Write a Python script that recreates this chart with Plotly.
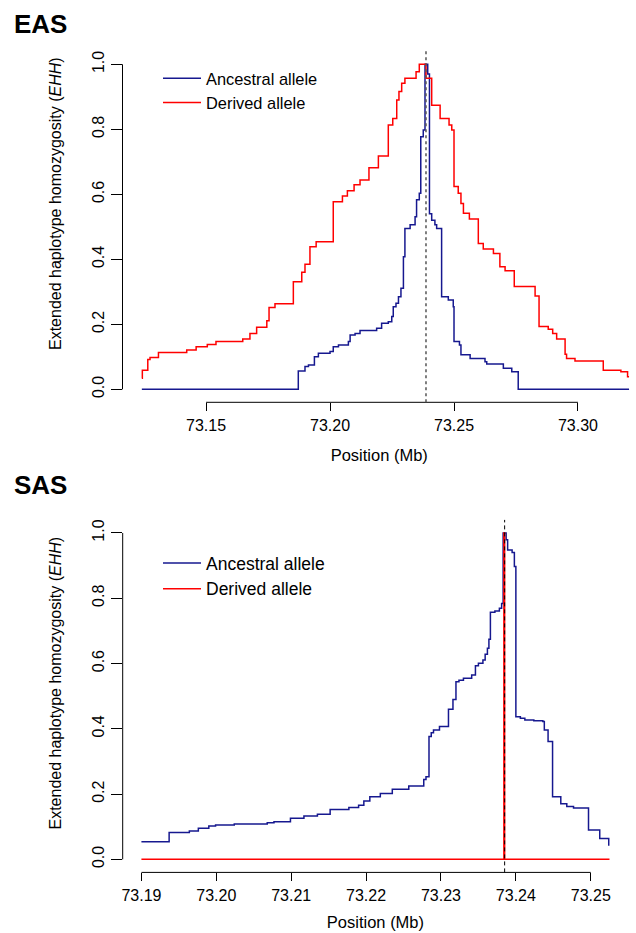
import plotly.graph_objects as go

# ---------------- data ----------------
eas_anc_pos = [73.1241, 73.1872, 73.1899, 73.1913, 73.1937, 73.1953, 73.2000, 73.2013, 73.2034,
               73.2074, 73.2081, 73.2101, 73.2121, 73.2188, 73.2208, 73.2235, 73.2249, 73.2255,
               73.2266, 73.2276, 73.2286, 73.2296, 73.2302, 73.2323, 73.2343, 73.2349, 73.2360,
               73.2366, 73.2376, 73.2383, 73.2394, 73.2401, 73.2410, 73.2423, 73.2430, 73.2450,
               73.2477, 73.2497, 73.2500, 73.2522, 73.2528, 73.2565, 73.2625, 73.2632, 73.2699,
               73.2733, 73.2759, 73.3206]
eas_anc_ehh = [0.000, 0.056, 0.070, 0.075, 0.100, 0.111, 0.116, 0.131, 0.136,
               0.147, 0.167, 0.172, 0.181, 0.188, 0.203, 0.208, 0.224, 0.254,
               0.265, 0.285, 0.311, 0.408, 0.495, 0.506, 0.531, 0.583, 0.603,
               0.777, 0.798, 1.000, 0.970, 0.540, 0.520, 0.506, 0.495, 0.285,
               0.275, 0.254, 0.147, 0.136, 0.106, 0.095, 0.085, 0.078, 0.065,
               0.054, 0.000, 0.000]

eas_der_pos = [73.1241, 73.1243, 73.1265, 73.1274, 73.1308, 73.1422, 73.1460, 73.1505, 73.1540,
               73.1648, 73.1677, 73.1704, 73.1745, 73.1754, 73.1778, 73.1852, 73.1886, 73.1899,
               73.1919, 73.1944, 73.2013, 73.2050, 73.2070, 73.2097, 73.2121, 73.2157, 73.2195,
               73.2235, 73.2253, 73.2269, 73.2278, 73.2289, 73.2302, 73.2347, 73.2360, 73.2387,
               73.2410, 73.2444, 73.2480, 73.2491, 73.2500, 73.2517, 73.2528, 73.2538, 73.2562,
               73.2598, 73.2618, 73.2659, 73.2685, 73.2706, 73.2743, 73.2827, 73.2843, 73.2880,
               73.2898, 73.2914, 73.2948, 73.2954, 73.2988, 73.3102, 73.3173, 73.3200, 73.3206]
eas_der_ehh = [0.034, 0.059, 0.092, 0.098, 0.113, 0.121, 0.131, 0.138, 0.147,
               0.155, 0.172, 0.191, 0.211, 0.252, 0.263, 0.331, 0.360, 0.385,
               0.439, 0.454, 0.577, 0.595, 0.611, 0.629, 0.644, 0.682, 0.718,
               0.813, 0.833, 0.890, 0.916, 0.942, 0.957, 0.977, 1.000, 0.957,
               0.874, 0.833, 0.813, 0.798, 0.624, 0.603, 0.572, 0.542, 0.524,
               0.449, 0.432, 0.418, 0.377, 0.365, 0.316, 0.287, 0.193, 0.185,
               0.172, 0.155, 0.108, 0.095, 0.087, 0.059, 0.054, 0.039, 0.039]

sas_anc_pos = [73.1900, 73.1937, 73.1964, 73.1976, 73.1990, 73.1999, 73.2024, 73.2068, 73.2077,
               73.2099, 73.2117, 73.2135, 73.2152, 73.2177, 73.2190, 73.2197, 73.2205, 73.2219,
               73.2235, 73.2257, 73.2277, 73.2280, 73.2284, 73.2287, 73.2290, 73.2298, 73.2310,
               73.2316, 73.2320, 73.2324, 73.2330, 73.2341, 73.2346, 73.2350, 73.2356, 73.2359,
               73.2362, 73.2364, 73.2366, 73.2372, 73.2378, 73.2381, 73.2383, 73.2387, 73.2389,
               73.2395, 73.2398, 73.2400, 73.2406, 73.2412, 73.2424, 73.2436, 73.2438, 73.2443,
               73.2449, 73.2460, 73.2468, 73.2477, 73.2497, 73.2512, 73.2524, 73.2525]
sas_anc_ehh = [0.054, 0.082, 0.087, 0.095, 0.102, 0.105, 0.108, 0.112, 0.115,
               0.126, 0.133, 0.138, 0.153, 0.159, 0.166, 0.179, 0.192, 0.202,
               0.215, 0.225, 0.245, 0.253, 0.376, 0.388, 0.396, 0.407, 0.460,
               0.490, 0.544, 0.549, 0.555, 0.565, 0.593, 0.601, 0.611, 0.628,
               0.647, 0.674, 0.757, 0.761, 0.769, 0.784, 1.000, 0.979, 0.948,
               0.940, 0.897, 0.437, 0.432, 0.427, 0.425, 0.422, 0.396, 0.361,
               0.192, 0.170, 0.162, 0.157, 0.090, 0.064, 0.044, 0.044]

sas_der_pos = [73.1900, 73.2384, 73.2385, 73.2525]
sas_der_ehh = [0.0, 1.0, 0.0, 0.0]

eas_core = 73.2387
sas_core = 73.2385

eas_xticks = [73.15, 73.20, 73.25, 73.30]
sas_xticks = [73.19, 73.20, 73.21, 73.22, 73.23, 73.24, 73.25]
y_ticks = [0.0, 0.2, 0.4, 0.6, 0.8, 1.0]

# ---------------- figure ----------------
W, H = 636, 933
FONT = "Liberation Sans, Arial, Helvetica, sans-serif"
BLUE = "#16188f"
RED = "#ff0000"


def px(x):
    return x / W


def py(y):
    return 1 - y / H


fig = go.Figure()

fig.add_trace(go.Scatter(x=eas_anc_pos, y=eas_anc_ehh, mode="lines", line_shape="hv",
                         line=dict(color=BLUE, width=1.5), name="Ancestral allele",
                         xaxis="x", yaxis="y", legend="legend"))
fig.add_trace(go.Scatter(x=eas_der_pos, y=eas_der_ehh, mode="lines", line_shape="hv",
                         line=dict(color=RED, width=1.5), name="Derived allele",
                         xaxis="x", yaxis="y", legend="legend"))
fig.add_trace(go.Scatter(x=sas_anc_pos, y=sas_anc_ehh, mode="lines", line_shape="hv",
                         line=dict(color=BLUE, width=1.5), name="Ancestral allele",
                         xaxis="x2", yaxis="y2", legend="legend2"))
fig.add_trace(go.Scatter(x=sas_der_pos, y=sas_der_ehh, mode="lines", line_shape="hv",
                         line=dict(color=RED, width=1.5), name="Derived allele",
                         xaxis="x2", yaxis="y2", legend="legend2"))

axis_common = dict(showline=False, zeroline=False, showgrid=False, ticks="outside",
                   tickcolor="black", tickwidth=1, automargin=False,
                   tickfont=dict(family=FONT, size=16, color="black"))

ylabels = ["%.1f" % v for v in y_ticks]

fig.update_layout(
    width=W, height=H,
    margin=dict(l=0, r=0, t=0, b=0),
    paper_bgcolor="white", plot_bgcolor="white",
    font=dict(family=FONT, color="black"),
    xaxis=dict(domain=[px(122.5), 1.0], range=[73.1163, 73.3234], anchor="y",
               tickvals=eas_xticks, ticktext=["%.2f" % v for v in eas_xticks], ticklen=8,
               title=dict(text="Position (Mb)", font=dict(size=16.5), standoff=16),
               **axis_common),
    yaxis=dict(domain=[py(402.3), py(51.3)], range=[-0.04, 1.04], anchor="x",
               tickvals=y_ticks, ticktext=ylabels, ticklen=11, tickangle=-90,
               **axis_common),
    xaxis2=dict(domain=[px(122.7), px(628.2)], range=[73.1875, 73.2550], anchor="y2",
                tickvals=sas_xticks, ticktext=["%.2f" % v for v in sas_xticks], ticklen=8,
                title=dict(text="Position (Mb)", font=dict(size=16.5), standoff=13),
                **axis_common),
    yaxis2=dict(domain=[py(872.4), py(519.9)], range=[-0.04, 1.04], anchor="x2",
                tickvals=y_ticks, ticktext=ylabels, ticklen=11, tickangle=-90,
                **axis_common),
    legend=dict(x=px(158), y=py(61), xanchor="left", yanchor="top",
                bgcolor="rgba(0,0,0,0)", borderwidth=0,
                font=dict(family=FONT, size=16.4, color="black"), itemwidth=38,
                tracegroupgap=0),
    legend2=dict(x=px(158), y=py(545), xanchor="left", yanchor="top",
                 bgcolor="rgba(0,0,0,0)", borderwidth=0,
                 font=dict(family=FONT, size=17.5, color="black"), itemwidth=38,
                 tracegroupgap=0),
    showlegend=True,
)

shapes = []
# R-style axis lines spanning first to last tick
for xa, ya, xt in (("x", "y", eas_xticks), ("x2", "y2", sas_xticks)):
    shapes.append(dict(type="line", xref=xa, yref=ya + " domain", x0=xt[0], x1=xt[-1], y0=0, y1=0,
                       line=dict(color="black", width=1)))
    shapes.append(dict(type="line", xref=xa + " domain", yref=ya, x0=0, x1=0,
                       y0=y_ticks[0], y1=y_ticks[-1], line=dict(color="black", width=1)))
# core SNP position
shapes.append(dict(type="line", xref="x", yref="y domain", x0=eas_core, x1=eas_core, y0=0, y1=1,
                   line=dict(color="#555555", width=1.5, dash="3px,3px"), layer="above"))
shapes.append(dict(type="line", xref="x2", yref="y2 domain", x0=sas_core, x1=sas_core, y0=0, y1=1,
                   line=dict(color="black", width=1, dash="4px,3px"), layer="above"))
fig.update_layout(shapes=shapes)

ytitle = "Extended haplotype homozygosity (<i>EHH</i>)"
annotations = [
    dict(text="<b>EAS</b>", x=px(12), y=py(23.5), xref="paper", yref="paper", xanchor="left",
         yanchor="middle", showarrow=False, font=dict(family=FONT, size=26, color="black")),
    dict(text="<b>SAS</b>", x=px(12), y=py(485), xref="paper", yref="paper", xanchor="left",
         yanchor="middle", showarrow=False, font=dict(family=FONT, size=26, color="black")),
    dict(text=ytitle, x=px(55), y=py(204), xref="paper", yref="paper", xanchor="center",
         yanchor="middle", textangle=-90, showarrow=False,
         font=dict(family=FONT, size=16, color="black")),
    dict(text=ytitle, x=px(55), y=py(683.5), xref="paper", yref="paper", xanchor="center",
         yanchor="middle", textangle=-90, showarrow=False,
         font=dict(family=FONT, size=16, color="black")),
]
fig.update_layout(annotations=annotations)

fig.write_html("out.html", config={"displayModeBar": False},
               post_script="document.body.style.margin='0';")
